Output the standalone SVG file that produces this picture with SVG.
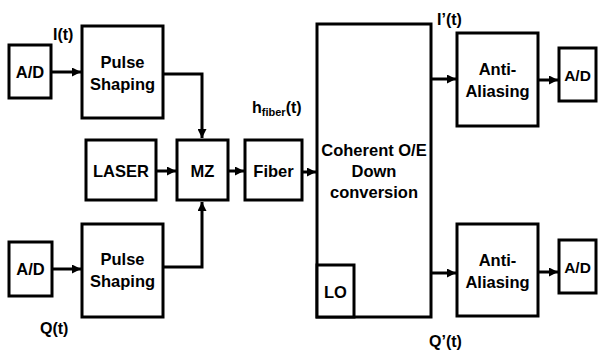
<svg xmlns="http://www.w3.org/2000/svg" width="598" height="356" viewBox="0 0 598 356">
<style>
.b{fill:#fff;stroke:#000;stroke-width:3}
.t{font-family:"Liberation Sans",Arial,sans-serif;font-weight:bold;font-size:16.5px;fill:#000;text-anchor:middle}
.l{font-family:"Liberation Sans",Arial,sans-serif;font-weight:bold;font-size:16px;fill:#000}
.c{fill:none;stroke:#000;stroke-width:3}
</style>
<defs>
<marker id="a" viewBox="0 0 10 10" refX="10" refY="5" markerWidth="3" markerHeight="3" orient="auto" markerUnits="strokeWidth">
<path d="M0,0 L10,5 L0,10 z" fill="#000"/>
</marker>
</defs>
<rect width="598" height="356" fill="#fff"/>
<g id="connectors">
<line class="c" x1="51" y1="72" x2="81" y2="72" marker-end="url(#a)"/>
<polyline class="c" points="163,74 202,74 202,138" marker-end="url(#a)"/>
<line class="c" x1="51" y1="269" x2="81" y2="269" marker-end="url(#a)"/>
<polyline class="c" points="163,267 202,267 202,202" marker-end="url(#a)"/>
<line class="c" x1="156" y1="171" x2="176" y2="171" marker-end="url(#a)"/>
<line class="c" x1="228" y1="171" x2="244" y2="171" marker-end="url(#a)"/>
<line class="c" x1="302" y1="172" x2="316" y2="172" marker-end="url(#a)"/>
<line class="c" x1="431" y1="79" x2="456" y2="79" marker-end="url(#a)"/>
<line class="c" x1="538" y1="80" x2="558" y2="80" marker-end="url(#a)"/>
<line class="c" x1="431" y1="273" x2="456" y2="273" marker-end="url(#a)"/>
<line class="c" x1="538" y1="272" x2="558" y2="272" marker-end="url(#a)"/>
</g>
<g id="ad1"><rect class="b" x="9" y="45" width="42" height="53"/><text class="t" x="30" y="78">A/D</text></g>
<g id="ps1"><rect class="b" x="82" y="26" width="81" height="92"/><text class="t" x="122.5" y="68">Pulse</text><text class="t" x="122.5" y="90">Shaping</text></g>
<g id="ad2"><rect class="b" x="9" y="242" width="43" height="54"/><text class="t" x="30.5" y="275">A/D</text></g>
<g id="ps2"><rect class="b" x="82" y="224" width="81" height="93"/><text class="t" x="122.5" y="265">Pulse</text><text class="t" x="122.5" y="287">Shaping</text></g>
<g id="laser"><rect class="b" x="86" y="140" width="70" height="60"/><text class="t" x="121" y="177">LASER</text></g>
<g id="mz"><rect class="b" x="177" y="140" width="51" height="60"/><text class="t" x="202.5" y="177">MZ</text></g>
<g id="fiber"><rect class="b" x="245" y="140" width="57" height="60"/><text class="t" x="273.5" y="177">Fiber</text></g>
<g id="coherent"><rect class="b" x="317" y="24" width="114" height="293"/><text class="t" x="374" y="156">Coherent O/E</text><text class="t" x="374" y="177">Down</text><text class="t" x="374" y="198">conversion</text></g>
<g id="lo"><rect class="b" x="317" y="265" width="37" height="52"/><text class="t" x="335.5" y="298">LO</text></g>
<g id="aa1"><rect class="b" x="457" y="33" width="81" height="93"/><text class="t" x="497.5" y="75">Anti-</text><text class="t" x="497.5" y="97">Aliasing</text></g>
<g id="aa2"><rect class="b" x="457" y="224" width="81" height="92"/><text class="t" x="497.5" y="266">Anti-</text><text class="t" x="497.5" y="288">Aliasing</text></g>
<g id="ad3"><rect class="b" x="559" y="48" width="37" height="53"/><text class="t" x="577.5" y="81" style="font-size:15.5px">A/D</text></g>
<g id="ad4"><rect class="b" x="559" y="240" width="37" height="53"/><text class="t" x="577.5" y="273" style="font-size:15.5px">A/D</text></g>
<g id="labels">
<text class="l" x="53" y="40">I(t)</text>
<text class="l" x="40" y="334">Q(t)</text>
<text class="l" x="252" y="113">h<tspan font-size="11" dy="3">fiber</tspan><tspan dy="-3">(t)</tspan></text>
<text class="l" x="437" y="25">I’(t)</text>
<text class="l" x="429" y="347">Q’(t)</text>
</g>
</svg>
